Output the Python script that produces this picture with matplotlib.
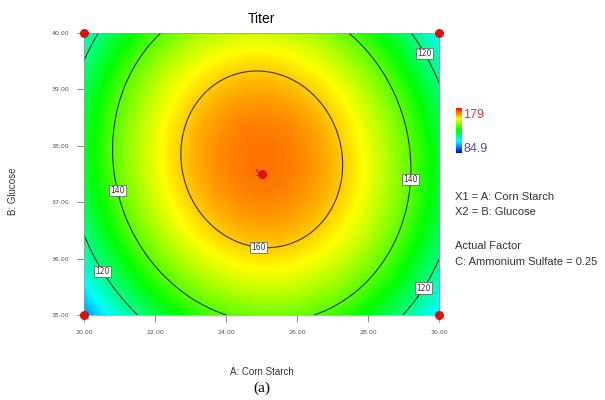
import matplotlib.pyplot as plt
import numpy as np
from matplotlib.colors import LinearSegmentedColormap

# axis ranges and ticks
a_ticks = [20.0, 22.0, 24.0, 26.0, 28.0, 30.0]
b_ticks = [35.0, 36.0, 37.0, 38.0, 39.0, 40.0]

# quadratic model in coded units: b0, A, B, A^2, B^2, AB
coef_b0 = 168.1
coef_a = 0.4
coef_b = 4.43
coef_aa = -40.3
coef_bb = -21.3
coef_ab = -3.5

contour_levels = [120, 140, 160]
color_min = 84.9
color_max = 179

# design points
design_a = [20.0, 20.0, 30.0, 30.0, 25.0]
design_b = [35.0, 40.0, 35.0, 40.0, 37.5]


def titer(a, b):
    ca = (a - 25.0) / 5.0
    cb = (b - 37.5) / 2.5
    return (coef_b0 + coef_a * ca + coef_b * cb + coef_aa * ca ** 2
            + coef_bb * cb ** 2 + coef_ab * ca * cb)


cmap = LinearSegmentedColormap.from_list(
    "de", ["#0000ff", "#00ffff", "#00ff00", "#ffff00", "#ff0000"]
)

fig = plt.figure(figsize=(6.05, 4.0), dpi=100)
ax = fig.add_axes([0.139, 0.2125, 0.587, 0.705])

aa, bb = np.meshgrid(np.linspace(20, 30, 300), np.linspace(35, 40, 300))
zz = titer(aa, bb)

ax.imshow(zz, extent=[20, 30, 35, 40], origin="lower", aspect="auto",
          cmap=cmap, vmin=color_min, vmax=color_max, interpolation="bilinear")
cs = ax.contour(aa, bb, zz, levels=contour_levels, colors="#333333",
                linewidths=0.8)
labels = ax.clabel(
    cs, fmt="%d", fontsize=5.5, inline=False,
    manual=[(20.6, 35.8), (29.5, 35.5), (29.5, 39.6),
            (20.9, 37.2), (29.1, 37.4), (24.9, 36.2)]
)
for t in labels:
    t.set_rotation(0)
    t.set_zorder(4)
    t.set_bbox(dict(facecolor="white", edgecolor="#555555", pad=0.8,
                    linewidth=0.5))

ax.scatter(design_a, design_b, s=30, color="#e01010", zorder=5, clip_on=False)
ax.text(24.93, 37.5, "5", fontsize=6, color="#b03000", ha="right",
        va="center")

ax.set_xlim(20, 30)
ax.set_ylim(35, 40)
ax.set_xticks(a_ticks)
ax.set_yticks(b_ticks)
ax.set_xticklabels([f"{v:.2f}" for v in a_ticks])
ax.set_yticklabels([f"{v:.2f}" for v in b_ticks])
ax.tick_params(labelsize=4.5, labelcolor="#555555", color="#777777",
               length=5, width=0.6, pad=6)
for s in ax.spines.values():
    s.set_color("#999999")
    s.set_linewidth(0.5)

ax.set_title("Titer", fontsize=10, family="Liberation Sans", pad=7)
ax.set_xlabel("A: Corn Starch", fontsize=7, family="Liberation Sans",
              color="#333333")
ax.set_ylabel("B: Glucose", fontsize=7, family="Liberation Sans",
              color="#333333")
ax.xaxis.set_label_coords(0.5, -52 / 282)
ax.yaxis.set_label_coords(-66 / 355, 0.44)

# small colour legend
cax = fig.add_axes([456 / 605, 1 - 153 / 400, 6 / 605, 45 / 400])
cax.imshow(np.linspace(0, 1, 50)[:, None], cmap=cmap, origin="lower",
           aspect="auto")
cax.set_axis_off()
fig.text(463 / 605, 1 - 115 / 400, f"{color_max}", fontsize=9,
         color="#e03030", va="center", family="Liberation Sans")
fig.text(463 / 605, 1 - 149 / 400, f"{color_min}", fontsize=9,
         color="#4848e0", va="center", family="Liberation Sans")

fig.text(455 / 605, 1 - 197 / 400, "X1 = A: Corn Starch", fontsize=8,
         color="#333333", va="center", family="Liberation Sans")
fig.text(455 / 605, 1 - 212 / 400, "X2 = B: Glucose", fontsize=8,
         color="#333333", va="center", family="Liberation Sans")
fig.text(455 / 605, 1 - 246 / 400, "Actual Factor", fontsize=8,
         color="#333333", va="center", family="Liberation Sans")
fig.text(455 / 605, 1 - 262 / 400, "C: Ammonium Sulfate = 0.25", fontsize=8,
         color="#333333", va="center", family="Liberation Sans")

fig.text(262 / 605, 1 - 388 / 400, "(a)", fontsize=11,
         family="Liberation Serif", ha="center", va="center")

fig.savefig("out.png", dpi=100)
